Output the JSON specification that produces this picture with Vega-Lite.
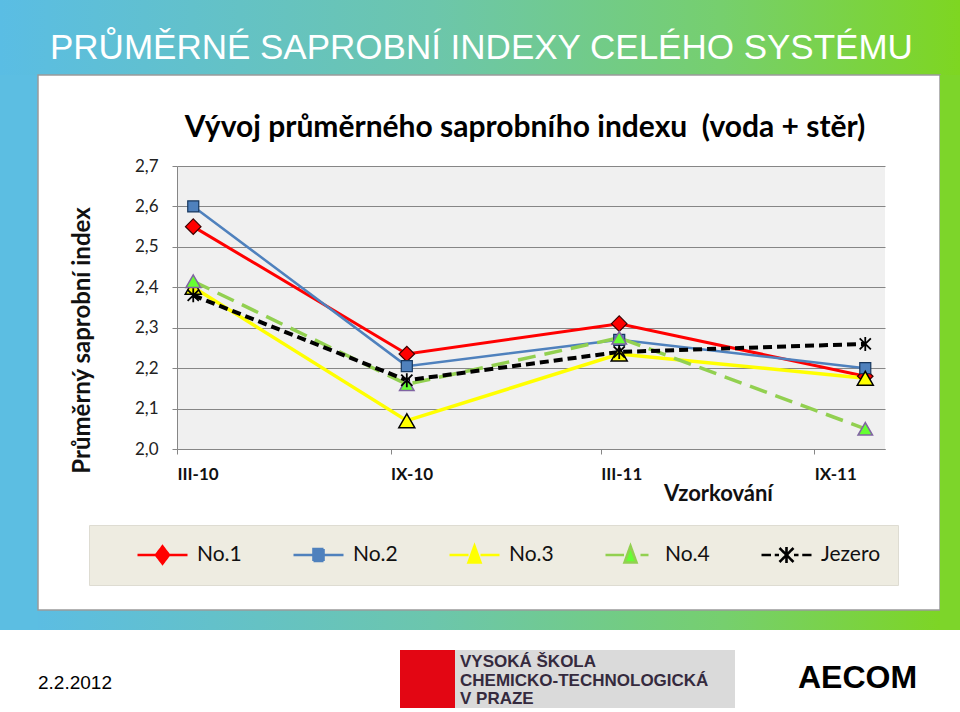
{
  "$schema": "https://vega.github.io/schema/vega-lite/v6.json",
  "background": "#ffffff",
  "padding": 0,
  "spacing": 0,
  "bounds": "flush",
  "config": {
    "view": {"stroke": null},
    "font": "Lato",
    "concat": {"spacing": 0},
    "locale": {"number": {"decimal": ",", "thousands": " ", "grouping": [3], "currency": ["", " Kč"]}}
  },
  "datasets": {
    "saprob": [
      {"serie": "No.1", "odber": "2010-03-15", "index": 2.55},
      {"serie": "No.1", "odber": "2010-09-15", "index": 2.235},
      {"serie": "No.1", "odber": "2011-03-17", "index": 2.31},
      {"serie": "No.1", "odber": "2011-10-15", "index": 2.18},
      {"serie": "No.2", "odber": "2010-03-15", "index": 2.60},
      {"serie": "No.2", "odber": "2010-09-15", "index": 2.205},
      {"serie": "No.2", "odber": "2011-03-17", "index": 2.27},
      {"serie": "No.2", "odber": "2011-10-15", "index": 2.20},
      {"serie": "No.3", "odber": "2010-03-15", "index": 2.40},
      {"serie": "No.3", "odber": "2010-09-15", "index": 2.07},
      {"serie": "No.3", "odber": "2011-03-17", "index": 2.235},
      {"serie": "No.3", "odber": "2011-10-15", "index": 2.175},
      {"serie": "No.4", "odber": "2010-03-15", "index": 2.415},
      {"serie": "No.4", "odber": "2010-09-15", "index": 2.16},
      {"serie": "No.4", "odber": "2011-03-17", "index": 2.275},
      {"serie": "No.4", "odber": "2011-10-15", "index": 2.05},
      {"serie": "Jezero", "odber": "2010-03-15", "index": 2.38},
      {"serie": "Jezero", "odber": "2010-09-15", "index": 2.17},
      {"serie": "Jezero", "odber": "2011-03-17", "index": 2.24},
      {"serie": "Jezero", "odber": "2011-10-15", "index": 2.26}
    ]
  },
  "vconcat": [
    {
      "width": 960, "height": 75,
      "data": {"values": []}, "mark": "rect", "encoding": {},
      "view": {"fill": {"gradient": "linear", "x1": 0, "y1": 0, "x2": 1, "y2": 0, "stops": [{"offset": 0, "color": "#5abde4"}, {"offset": 0.45, "color": "#6cc6ac"}, {"offset": 0.75, "color": "#76cf6e"}, {"offset": 1, "color": "#7ed621"}]}},
      "title": {"text": "PRŮMĚRNÉ SAPROBNÍ INDEXY CELÉHO SYSTÉMU", "font": "Liberation Sans", "fontSize": 35, "fontWeight": "normal", "color": "#ffffff", "anchor": "start", "frame": "group", "baseline": "alphabetic", "offset": 0, "dx": 50, "dy": 94}
    },
    {
      "hconcat": [
        {"width": 38, "height": 555, "data": {"values": []}, "mark": "rect", "encoding": {}, "view": {"fill": "#5cbee2"}},
        {
          "vconcat": [
            {"width": 902, "height": 91, "data": {"values": []}, "mark": "rect", "encoding": {}},
            {
              "hconcat": [
                {"width": 139, "height": 283, "data": {"values": []}, "mark": "rect", "encoding": {}},
                {
                  "width": 708, "height": 283,
                  "data": {"name": "saprob"},
                  "view": {"fill": "#f0f0f0", "stroke": null},
                  "title": {"text": "Vývoj průměrného saprobního indexu\u00a0\u00a0(voda + stěr)", "font": "Lato", "fontSize": 30, "fontWeight": "bold", "color": "#000000", "anchor": "middle", "frame": "group", "baseline": "alphabetic", "offset": 20, "dx": -6, "dy": 30},
                  "encoding": {
                    "x": {
                      "field": "odber", "type": "temporal",
                      "scale": {"type": "utc", "domain": [{"year": 2010, "month": 3, "date": 1, "utc": true}, {"year": 2011, "month": 11, "date": 1, "utc": true}]},
                      "axis": {
                        "values": [{"year": 2010, "month": 3, "date": 1, "utc": true}, {"year": 2010, "month": 9, "date": 1, "utc": true}, {"year": 2011, "month": 3, "date": 1, "utc": true}, {"year": 2011, "month": 9, "date": 1, "utc": true}],
                        "labelExpr": "(utcmonth(datum.value) == 2 ? 'III-' : 'IX-') + utcFormat(datum.value, '%y')",
                        "labelAlign": "left", "labelFlush": false, "labelOverlap": false,
                        "labelFont": "Lato", "labelFontSize": 17, "labelFontWeight": "bold", "labelColor": "#111111", "labelPadding": 12,
                        "tickSize": 5, "tickColor": "#868686", "domainColor": "#868686", "grid": false,
                        "title": "Vzorkování", "titleFont": "Lato", "titleFontSize": 22, "titleFontWeight": "bold", "titleColor": "#111111",
                        "titleX": 541, "titleY": 44, "titleAlign": "center", "titleBaseline": "middle"
                      }
                    },
                    "y": {
                      "field": "index", "type": "quantitative",
                      "scale": {"domain": [2.0, 2.7], "nice": false, "zero": false},
                      "axis": {
                        "values": [2.0, 2.1, 2.2, 2.3, 2.4, 2.5, 2.6, 2.7], "format": ".1f",
                        "grid": true, "gridColor": "#868686", "gridOpacity": 1, "gridWidth": 1,
                        "domainColor": "#868686", "tickColor": "#868686", "tickSize": 5,
                        "labelFont": "Lato", "labelFontSize": 17, "labelColor": "#222222", "labelPadding": 14,
                        "title": "Průměrný saprobní index", "titleFont": "Lato", "titleFontSize": 24, "titleFontWeight": "bold", "titleColor": "#111111",
                        "titleX": -95, "titleY": 174, "titleAngle": 270, "titleAlign": "center", "titleBaseline": "middle"
                      }
                    }
                  },
                  "layer": [
                    {
                      "transform": [{"filter": "datum.serie === 'No.1'"}],
                      "mark": {"type": "line", "strokeWidth": 3, "strokeCap": "butt"},
                      "encoding": {
                        "color": {
                          "field": "serie", "type": "nominal",
                          "scale": {"domain": ["No.1", "No.2", "No.3", "No.4", "Jezero"], "range": ["#ff0000", "#4f81bd", "#ffff00", "#92d050", "#000000"]},
                          "legend": {
                            "title": " ", "titleOrient": "left", "titlePadding": 30, "titleFontSize": 10,
                            "orient": "none", "legendX": 89, "legendY": 525, "direction": "horizontal",
                            "fillColor": "#eeece1", "strokeColor": "#dedcd2", "padding": 17, "clipHeight": 26,
                            "labelFont": "Lato", "labelFontSize": 21, "labelColor": "#111111", "labelOffset": 8,
                            "columnPadding": 50, "symbolSize": 2500, "symbolStrokeWidth": 2.6,
                            "encode": {
                              "symbols": {
                                "update": {
                                  "shape": {"signal": "datum.value === 'No.1' ? 'M-1,0H-0.26M0.26,0H1M0,-0.34L0.26,0L0,0.34L-0.26,0Z' : datum.value === 'No.2' ? 'M-1,0H-0.2M0.2,0H1M-0.2,-0.24H0.2V0.24H-0.2Z' : datum.value === 'No.3' ? 'M-1,0H-0.24M0.24,0H1M0,-0.36L0.24,0.3H-0.24Z' : datum.value === 'No.4' ? 'M-1,0H-0.26M0.4,0H0.72M0,-0.36L0.24,0.3H-0.24Z' : 'M-1,0H-0.62M-0.47,0H-0.3M0.3,0H0.48M0.63,0H1M0,-0.32V0.32M-0.28,-0.28L0.28,0.28M-0.28,0.28L0.28,-0.28'"},
                                  "stroke": {"signal": "datum.value === 'No.1' ? '#ff0000' : datum.value === 'No.2' ? '#4f81bd' : datum.value === 'No.3' ? '#ffff00' : datum.value === 'No.4' ? '#92d050' : '#000000'"},
                                  "fill": {"signal": "datum.value === 'No.1' ? '#ff0000' : datum.value === 'No.2' ? '#4f81bd' : datum.value === 'No.3' ? '#ffff00' : datum.value === 'No.4' ? '#66ff33' : 'transparent'"},
                                  "strokeWidth": {"value": 2.6},
                                  "strokeDash": {"value": [1, 0]},
                                  "opacity": {"value": 1},
                                  "size": {"value": 2500}
                                }
                              }
                            }
                          }
                        }
                      }
                    },
                    {
                      "transform": [{"filter": "datum.serie === 'No.2'"}],
                      "mark": {"type": "line", "strokeWidth": 2.5, "strokeCap": "butt"},
                      "encoding": {"color": {"field": "serie", "type": "nominal", "scale": {"domain": ["No.1", "No.2", "No.3", "No.4", "Jezero"], "range": ["#ff0000", "#4f81bd", "#ffff00", "#92d050", "#000000"]}}}
                    },
                    {
                      "transform": [{"filter": "datum.serie === 'No.3'"}],
                      "mark": {"type": "line", "strokeWidth": 3.5, "strokeCap": "butt"},
                      "encoding": {"color": {"field": "serie", "type": "nominal", "scale": {"domain": ["No.1", "No.2", "No.3", "No.4", "Jezero"], "range": ["#ff0000", "#4f81bd", "#ffff00", "#92d050", "#000000"]}}}
                    },
                    {
                      "transform": [{"filter": "datum.serie === 'No.4'"}],
                      "mark": {"type": "line", "strokeWidth": 3.5, "strokeCap": "butt", "strokeDash": [18, 9]},
                      "encoding": {"color": {"field": "serie", "type": "nominal", "scale": {"domain": ["No.1", "No.2", "No.3", "No.4", "Jezero"], "range": ["#ff0000", "#4f81bd", "#ffff00", "#92d050", "#000000"]}}}
                    },
                    {
                      "transform": [{"filter": "datum.serie === 'Jezero'"}],
                      "mark": {"type": "line", "strokeWidth": 4, "strokeCap": "butt", "strokeDash": [9, 5]},
                      "encoding": {"color": {"field": "serie", "type": "nominal", "scale": {"domain": ["No.1", "No.2", "No.3", "No.4", "Jezero"], "range": ["#ff0000", "#4f81bd", "#ffff00", "#92d050", "#000000"]}}}
                    },
                    {
                      "transform": [{"filter": "datum.serie === 'No.1'"}],
                      "mark": {"type": "point", "shape": "diamond", "size": 240, "filled": true, "fill": "#ff0000", "stroke": "#3a0000", "strokeWidth": 1.2, "opacity": 1}
                    },
                    {
                      "transform": [{"filter": "datum.serie === 'No.2'"}],
                      "mark": {"type": "point", "shape": "square", "size": 121, "filled": true, "fill": "#4f81bd", "stroke": "#17375e", "strokeWidth": 1.2, "opacity": 1}
                    },
                    {
                      "transform": [{"filter": "datum.serie === 'No.3'"}],
                      "mark": {"type": "point", "shape": "triangle-up", "size": 256, "filled": true, "fill": "#ffff00", "stroke": "#000000", "strokeWidth": 1.5, "opacity": 1}
                    },
                    {
                      "transform": [{"filter": "datum.serie === 'No.4'"}],
                      "mark": {"type": "point", "shape": "triangle-up", "size": 210, "filled": true, "fill": "#66ff33", "stroke": "#8064a2", "strokeWidth": 1.5, "opacity": 1}
                    },
                    {
                      "transform": [{"filter": "datum.serie === 'Jezero'"}],
                      "mark": {"type": "point", "shape": "M0,-1V1M-0.8,-0.8L0.8,0.8M-0.8,0.8L0.8,-0.8", "size": 196, "filled": false, "stroke": "#000000", "strokeWidth": 1.8, "opacity": 1}
                    }
                  ]
                },
                {"width": 55, "height": 283, "data": {"values": []}, "mark": "rect", "encoding": {}}
              ],
              "spacing": 0, "bounds": "flush"
            },
            {"width": 902, "height": 444, "data": {"values": []}, "mark": "rect", "encoding": {}},
            {
              "width": 902, "height": 20, "data": {"values": []}, "mark": "rect", "encoding": {},
              "view": {"fill": {"gradient": "linear", "x1": 0, "y1": 0, "x2": 1, "y2": 0, "stops": [{"offset": 0, "color": "#5cbde2"}, {"offset": 0.44, "color": "#6cc6ac"}, {"offset": 0.76, "color": "#76cf6e"}, {"offset": 1, "color": "#7dd525"}]}}
            }
          ],
          "spacing": 0, "bounds": "flush"
        },
        {"width": 902, "height": 535, "data": {"values": []}, "mark": "rect", "encoding": {}, "view": {"stroke": "#9a9a9a", "strokeWidth": 1.5}},
        {"width": 20, "height": 555, "data": {"values": []}, "mark": "rect", "encoding": {}, "view": {"fill": "#7dd52a"}}
      ],
      "spacing": 0, "bounds": "flush"
    },
    {"width": 960, "height": 555, "data": {"values": []}, "mark": "rect", "encoding": {}},
    {
      "hconcat": [
        {
          "width": 400, "height": 82, "data": {"values": []}, "mark": "rect", "encoding": {},
          "title": {"text": "2.2.2012", "font": "Liberation Sans", "fontSize": 19, "fontWeight": "normal", "color": "#000000", "anchor": "start", "frame": "group", "baseline": "alphabetic", "offset": 0, "dx": 38, "dy": 78}
        },
        {
          "vconcat": [
            {"width": 335, "height": 20, "data": {"values": []}, "mark": "rect", "encoding": {}},
            {
              "hconcat": [
                {"width": 55, "height": 58, "data": {"values": []}, "mark": "rect", "encoding": {}, "view": {"fill": "#e30613"}},
                {
                  "width": 280, "height": 58, "data": {"values": []}, "mark": "rect", "encoding": {}, "view": {"fill": "#dadada"},
                  "title": {"text": ["VYSOKÁ ŠKOLA", "CHEMICKO-TECHNOLOGICKÁ", "V PRAZE"], "font": "Liberation Sans", "fontSize": 17, "fontWeight": "bold", "color": "#352a3e", "anchor": "start", "frame": "group", "baseline": "top", "lineHeight": 18.5, "offset": 0, "dx": 5, "dy": 58}
                }
              ],
              "spacing": 0, "bounds": "flush"
            }
          ],
          "spacing": 0, "bounds": "flush"
        },
        {"width": 335, "height": 82, "data": {"values": []}, "mark": "rect", "encoding": {}},
        {
          "width": 225, "height": 82, "data": {"values": []}, "mark": "rect", "encoding": {},
          "title": {"text": "AECOM", "font": "Liberation Sans", "fontSize": 32, "fontWeight": "bold", "color": "#000000", "anchor": "start", "frame": "group", "baseline": "alphabetic", "offset": 0, "dx": 63, "dy": 90}
        }
      ],
      "spacing": 0, "bounds": "flush"
    }
  ]
}
